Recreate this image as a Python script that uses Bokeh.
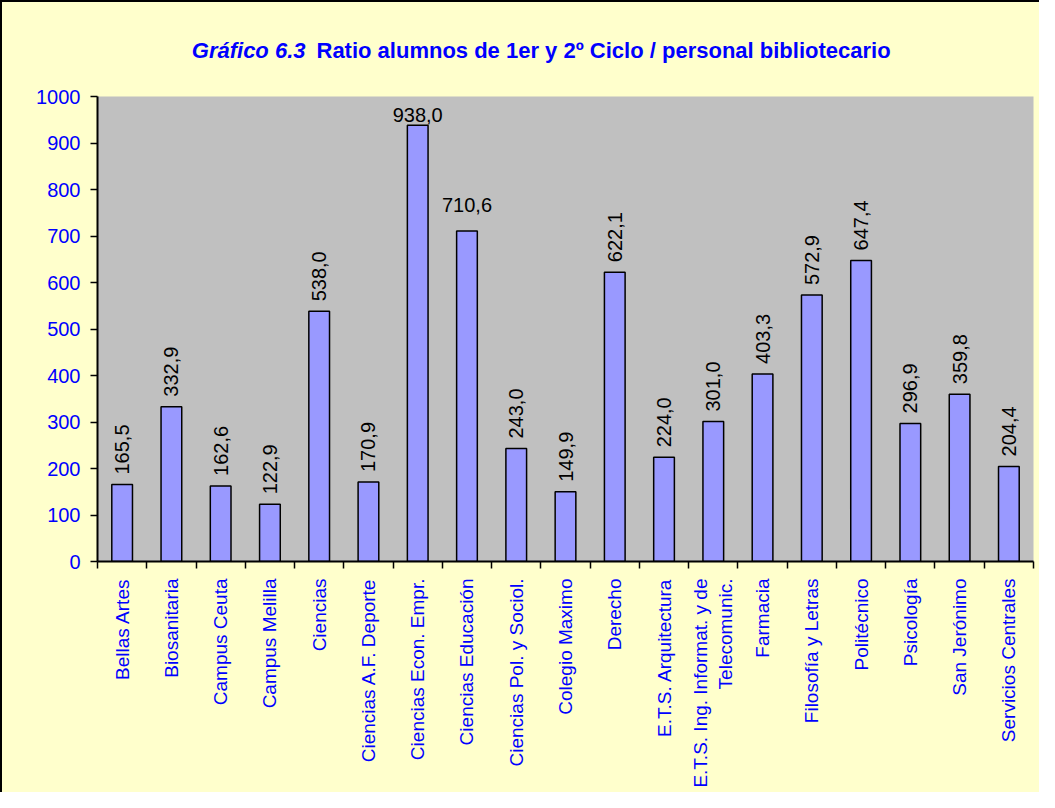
import math
from bokeh.plotting import figure
from bokeh.layouts import column
from bokeh.models import ColumnDataSource, Range1d, FixedTicker, CustomJSTickFormatter
from bokeh.core.properties import value
from bokeh.embed import file_html
from bokeh.resources import INLINE

# ---- data ----
categories = [
    "Bellas Artes", "Biosanitaria", "Campus Ceuta", "Campus Melilla", "Ciencias",
    "Ciencias A.F. Deporte", "Ciencias Econ. Empr.", "Ciencias Educación",
    "Ciencias Pol. y Sociol.", "Colegio Maximo", "Derecho", "E.T.S. Arquitectura",
    "E.T.S. Ing. Informat. y de\nTelecomunic.", "Farmacia", "Filosofía y Letras",
    "Politécnico", "Psicología", "San Jerónimo", "Servicios Centrales",
]
values = [165.5, 332.9, 162.6, 122.9, 538.0, 170.9, 938.0, 710.6, 243.0, 149.9,
          622.1, 224.0, 301.0, 403.3, 572.9, 647.4, 296.9, 359.8, 204.4]
y_ticks = [0, 100, 200, 300, 400, 500, 600, 700, 800, 900, 1000]
title_italic = "Gráfico 6.3"
title_bold = "Ratio alumnos de 1er y 2º Ciclo / personal bibliotecario"

# labels drawn horizontally (style), with their pixel lift above the bar
horizontal_lift = {"Ciencias Econ. Empr.": 3, "Ciencias Educación": 19}

FONT = "Liberation Sans"
BLUE = "#0000FF"
YELLOW = "#FFFFCC"
W = 1037
TITLE_H = 72
MAIN_H = 718
LEFT = 95
RIGHT = 6

n = len(categories)
centers = [i + 0.5 for i in range(n)]
texts = [f"{v:.1f}".replace(".", ",") for v in values]

rot_idx = [i for i, c in enumerate(categories) if c not in horizontal_lift]
hor_idx = [i for i, c in enumerate(categories) if c in horizontal_lift]

bars = ColumnDataSource(dict(x=centers, top=values))
rot_src = ColumnDataSource(dict(x=[centers[i] for i in rot_idx],
                                y=[values[i] for i in rot_idx],
                                t=[texts[i] for i in rot_idx]))
hor_src = ColumnDataSource(dict(x=[centers[i] for i in hor_idx],
                                y=[values[i] for i in hor_idx],
                                t=[texts[i] for i in hor_idx],
                                off=[-horizontal_lift[categories[i]] for i in hor_idx]))

# ---- title strip (frame aligned with the chart's frame; data units == pixels) ----
t = figure(width=W, height=TITLE_H, output_backend="svg", toolbar_location=None,
           x_range=Range1d(LEFT, W - RIGHT), y_range=Range1d(TITLE_H, 0),
           x_axis_type=None, y_axis_type=None,
           min_border_left=LEFT, min_border_right=RIGHT, min_border_top=0, min_border_bottom=0)
t.title_location = None
t.background_fill_color = YELLOW
t.border_fill_color = YELLOW
t.outline_line_color = None
t.grid.visible = False
t.text(x=[303], y=[48], text=[title_italic], text_align="right", text_baseline="alphabetic",
       text_font=value(FONT), text_font_size="22px", text_font_style="bold italic",
       text_color=BLUE)
t.text(x=[314], y=[48], text=[title_bold], text_align="left", text_baseline="alphabetic",
       text_font=value(FONT), text_font_size="22px", text_font_style="bold",
       text_color=BLUE)

# ---- main chart ----
p = figure(width=W, height=MAIN_H, output_backend="svg", toolbar_location=None,
           x_range=Range1d(0, n), y_range=Range1d(0, 1000),
           min_border_left=LEFT, min_border_right=RIGHT, min_border_top=22, min_border_bottom=231)
p.background_fill_color = "#C0C0C0"
p.border_fill_color = YELLOW
p.outline_line_color = None
p.xgrid.visible = False
p.ygrid.visible = False

p.vbar(x="x", top="top", width=0.42, source=bars, fill_color="#9999FF",
       line_color="black", line_width=1.5)

p.text(x="x", y="y", text="t", source=rot_src, angle=math.pi / 2,
       text_align="left", text_baseline="middle", y_offset=-10,
       text_font=value(FONT), text_font_size="20px", text_color="black")
p.text(x="x", y="y", text="t", source=hor_src, angle=0,
       text_align="center", text_baseline="bottom", y_offset="off",
       text_font=value(FONT), text_font_size="20px", text_color="black")

xa = p.xaxis[0]
xa.ticker = FixedTicker(ticks=centers, minor_ticks=list(range(n + 1)))
xa.formatter = CustomJSTickFormatter(args=dict(names=categories),
                                     code="return names[Math.floor(tick)];")
xa.major_label_orientation = math.pi / 2
xa.major_tick_out = 0
xa.major_tick_in = 0
xa.minor_tick_out = 7
xa.minor_tick_in = 0
xa.minor_tick_line_color = "black"
xa.minor_tick_line_width = 1.5
xa.axis_line_width = 2
xa.axis_line_color = "black"
xa.major_label_text_color = BLUE
xa.major_label_text_font = FONT
xa.major_label_text_font_size = "19px"
xa.major_label_standoff = 10

ya = p.yaxis[0]
ya.ticker = FixedTicker(ticks=y_ticks)
ya.major_tick_out = 7
ya.major_tick_in = 0
ya.major_tick_line_width = 1.5
ya.minor_tick_line_color = None
ya.axis_line_width = 2
ya.axis_line_color = "black"
ya.major_label_text_color = BLUE
ya.major_label_text_font = FONT
ya.major_label_text_font_size = "20px"
ya.major_label_standoff = 10

layout = column(t, p, spacing=0)
layout.styles = {"border-left": "2px solid #000", "border-top": "2px solid #000",
                 "background-color": YELLOW}

open("out.html", "w").write(file_html(layout, INLINE))
